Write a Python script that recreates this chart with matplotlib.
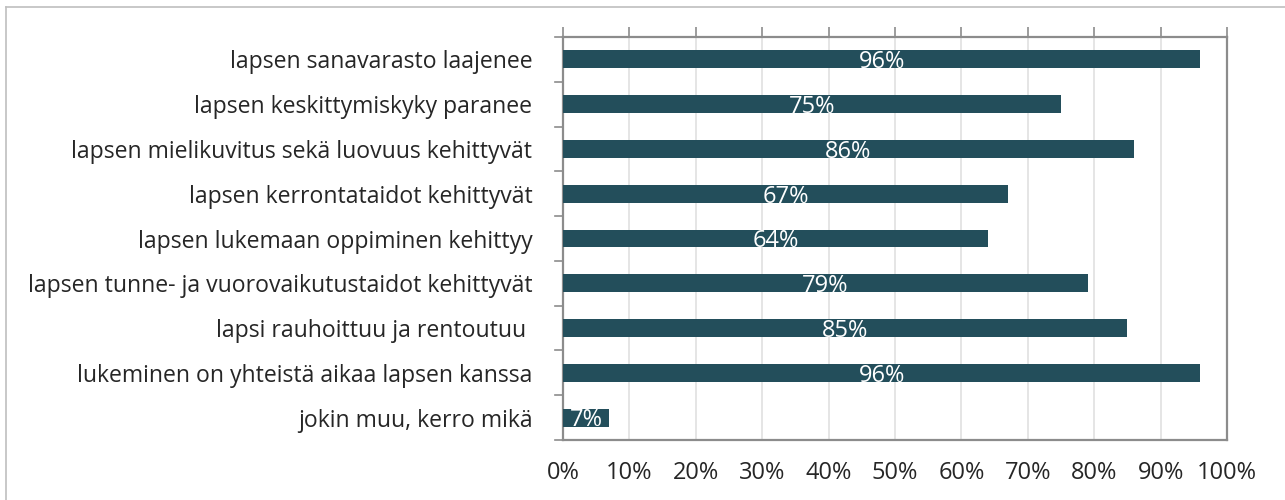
import matplotlib.pyplot as plt
from matplotlib.lines import Line2D
from matplotlib.ticker import FuncFormatter, MultipleLocator

categories = [
    "lapsen sanavarasto laajenee",
    "lapsen keskittymiskyky paranee",
    "lapsen mielikuvitus sekä luovuus kehittyvät",
    "lapsen kerrontataidot kehittyvät",
    "lapsen lukemaan oppiminen kehittyy",
    "lapsen tunne- ja vuorovaikutustaidot kehittyvät",
    "lapsi rauhoittuu ja rentoutuu ",
    "lukeminen on yhteistä aikaa lapsen kanssa",
    "jokin muu, kerro mikä",
]
values = [96, 75, 86, 67, 64, 79, 85, 96, 7]

plt.rcParams['font.family'] = ['Open Sans', 'DejaVu Sans']

fig = plt.figure(figsize=(12.85, 5.0), dpi=100)
ax = fig.add_axes([563 / 1285, 60 / 500, 664 / 1285, 403 / 500])

bar_color = '#234e5b'
spine_color = '#8c8c8c'
ypos = list(range(len(categories)))

ax.barh(ypos, values, height=0.4, color=bar_color, zorder=3)
for y, v in zip(ypos, values):
    ax.annotate(f"{v}%", (v / 2, y), xytext=(0, -2), textcoords='offset points',
                ha='center', va='center', color='white', fontsize=17, zorder=4)

ax.set_xlim(0, 100)
ax.set_ylim(len(categories) - 0.5, -0.5)
ax.set_yticks(ypos)
ax.set_yticklabels(categories, fontsize=16.6, color='#262626')
ax.tick_params(axis='y', length=0, pad=22)
# tick marks between categories on the left axis
for b in [i - 0.5 for i in range(len(categories) + 1)]:
    ax.add_line(Line2D([-1.2, 0], [b, b], color=spine_color, lw=1.2, clip_on=False))

ax.xaxis.set_major_locator(MultipleLocator(10))
ax.xaxis.set_major_formatter(FuncFormatter(lambda x, p: f"{int(x)}%"))
ax.tick_params(axis='x', which='major', bottom=False, top=True, labelbottom=True,
               length=7, width=1.2, color=spine_color, direction='out',
               labelsize=17, labelcolor='#262626', pad=8)
ax.grid(axis='x', color='#e3e3e3', lw=1.3, zorder=0)

for s in ax.spines.values():
    s.set_color(spine_color)
    s.set_linewidth(1.6)

# outer chart border (top and left only visible)
fig.add_artist(Line2D([6 / 1285, 1.0], [1 - 7 / 500, 1 - 7 / 500], color='#bfbfbf', lw=1.2))
fig.add_artist(Line2D([6 / 1285, 6 / 1285], [0, 1 - 7 / 500], color='#bfbfbf', lw=1.2))

fig.savefig('out.png', dpi=100, facecolor='white')
